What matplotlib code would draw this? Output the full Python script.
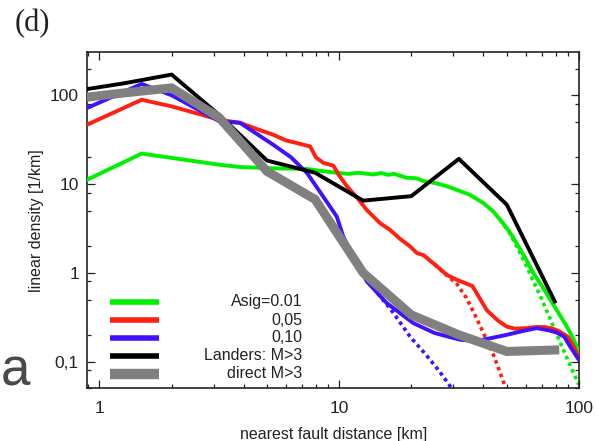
import matplotlib
matplotlib.use('Agg')
import matplotlib.pyplot as plt
from matplotlib.ticker import LogLocator, FixedLocator, FixedFormatter, NullFormatter

plt.rcParams['font.family'] = ['Liberation Sans', 'DejaVu Sans']

# ---------------- data ----------------
green_x = [0.89, 1.5, 2.0, 3.16, 3.9, 4.5, 5.5, 7.3, 8.5, 10, 11, 12, 13.9, 15, 16, 17, 19, 21,
           22.5, 25, 28, 31, 35, 40, 44, 47, 51, 55, 60, 64.7, 70, 76, 82, 89, 95, 100]
green_y = [11.2, 22, 19.7, 16.5, 15.5, 15.3, 15.0, 14.8, 14.0, 13.3, 13.0, 13.4, 12.8, 13.3, 12.7, 13.0,
           11.8, 11.6, 10.8, 10.3, 9.5, 8.6, 7.6, 6.1, 4.9, 3.96, 3.0, 2.16, 1.45, 0.99, 0.72, 0.5,
           0.36, 0.25, 0.18, 0.13]
green_th_x = [47, 51, 55, 60, 64, 69, 75, 81, 88, 95, 100]
green_th_y = [3.96, 2.9, 2.0, 1.25, 0.85, 0.55, 0.33, 0.2, 0.12, 0.075, 0.055]

red_x = [0.89, 1.5, 2.0, 3.16, 3.86, 4.5, 5.3, 6.0, 6.65, 7.57, 8.0, 8.6, 9.47, 10.0, 10.8, 12,
         13.05, 14.8, 16.3, 18, 19.8, 21.1, 22.5, 25, 28.1, 31, 36, 41.3, 46, 50, 54, 60.7, 66,
         72, 78, 84, 90, 95, 100]
red_y = [46.7, 89, 75, 53, 48.9, 42, 36, 31, 29, 26.5, 20, 17.3, 16.1, 12.5, 9.4, 6.8,
         5.1, 3.64, 3.05, 2.4, 1.98, 1.67, 1.58, 1.25, 0.95, 0.835, 0.71, 0.38, 0.29, 0.248,
         0.235, 0.238, 0.245, 0.245, 0.235, 0.215, 0.19, 0.15, 0.11]
red_th_x = [25, 28, 31, 34, 37, 40, 44, 47, 49.5]
red_th_y = [1.25, 0.95, 0.75, 0.52, 0.33, 0.21, 0.12, 0.075, 0.05]

blue_x = [0.89, 1.5, 2.0, 3.16, 3.86, 5.3, 6.3, 7.35, 8.5, 9.78, 10.4, 11.5, 13.05, 15.8, 18,
          20.4, 25, 32, 37, 42.7, 50, 58, 66.8, 75, 81, 87, 92, 100]
blue_y = [72, 134, 100, 51, 48.9, 27.8, 20, 13.3, 7.5, 4.3, 2.57, 1.5, 0.8, 0.456, 0.35,
          0.271, 0.21, 0.176, 0.17, 0.183, 0.2, 0.22, 0.238, 0.225, 0.212, 0.19, 0.148, 0.105]
blue_th_x = [11.5, 13, 15, 16.3, 19.8, 23, 26, 29.5]
blue_th_y = [1.5, 0.85, 0.52, 0.4, 0.19, 0.12, 0.08, 0.05]

landers_x = [0.794, 1.26, 2.0, 3.16, 5.0, 7.94, 12.6, 20.0, 31.6, 50.1, 79.4]
landers_y = [112, 136, 171, 60, 18.4, 13.4, 6.5, 7.3, 19.2, 5.85, 0.475]

direct_x = [0.794, 1.26, 2.0, 3.16, 5.0, 7.94, 12.6, 20.0, 31.6, 50.1, 79.4]
direct_y = [92, 106, 121, 56, 13.9, 6.7, 1.0, 0.336, 0.2, 0.13, 0.135]

legend_labels = ['Asig=0.01', '0,05', '0,10', 'Landers: M>3', 'direct M>3']
y_major = [0.1, 1, 10, 100]
y_major_labels = ['0,1', '1', '10', '100']
x_major = [1, 10, 100]
x_major_labels = ['1', '10', '100']

GREEN = '#00f000'
RED = '#ff2010'
BLUE = '#4010ff'
BLACK = '#000000'
GRAY = '#808080'

fig = plt.figure(figsize=(5.98, 4.41), dpi=100)
ax = fig.add_axes([0.146, 0.1195, 0.8227, 0.762])
ax.set_xscale('log')
ax.set_yscale('log')

dot = dict(linestyle=(0, (1, 1)), lw=2.6, dash_capstyle='butt')
ax.plot(green_th_x, green_th_y, color=GREEN, **dot, zorder=2)
ax.plot(red_th_x, red_th_y, color=RED, **dot, zorder=2)
ax.plot(blue_th_x, blue_th_y, color=BLUE, **dot, zorder=2)
ax.plot(green_x, green_y, color=GREEN, lw=2.8, zorder=3)
ax.plot(red_x, red_y, color=RED, lw=2.8, zorder=3)
ax.plot(blue_x, blue_y, color=BLUE, lw=2.8, zorder=3)
ax.plot(landers_x, landers_y, color=BLACK, lw=2.8, zorder=4)
ax.plot(direct_x, direct_y, color=GRAY, lw=6.5, zorder=5, solid_joinstyle='miter')

ax.set_xlim(0.89, 100.5)
ax.set_ylim(0.05, 305)

ax.yaxis.set_major_locator(FixedLocator(y_major))
ax.yaxis.set_major_formatter(FixedFormatter(y_major_labels))
ax.yaxis.set_minor_locator(LogLocator(base=10, subs=(2, 5, 8)))
ax.yaxis.set_minor_formatter(NullFormatter())
ax.xaxis.set_major_locator(FixedLocator(x_major))
ax.xaxis.set_major_formatter(FixedFormatter(x_major_labels))
ax.xaxis.set_minor_locator(LogLocator(base=10, subs=(2, 3, 4, 5, 6, 7, 8, 9)))
ax.xaxis.set_minor_formatter(NullFormatter())

ax.tick_params(which='both', direction='in', top=True, right=True, width=0.9, colors='#222222',
               labelcolor='#222222', labelsize=12.5)
ax.tick_params(which='major', length=5.5)
ax.tick_params(which='minor', length=3)
ax.tick_params(axis='x', pad=9)
ax.tick_params(axis='y', pad=6)
for s in ax.spines.values():
    s.set_linewidth(1.2)
    s.set_color('#222222')

ax.set_xlabel('nearest fault distance [km]', fontsize=11.5, color='#222222', labelpad=8)
ax.set_ylabel('linear density [1/km]', fontsize=11.5, color='#222222', labelpad=4)

# legend (gnuplot style, right-aligned labels)
colors = [GREEN, RED, BLUE, BLACK, GRAY]
widths = [4, 4, 4, 4, 7.5]
rows = [0.257, 0.203, 0.150, 0.097, 0.043]
for lab, c, w, yy in zip(legend_labels, colors, widths, rows):
    ax.plot([0.046, 0.146], [yy, yy], transform=ax.transAxes, color=c, lw=w,
            solid_capstyle='butt', zorder=6)
    ax.text(0.437, yy, lab, transform=ax.transAxes, ha='right', va='center',
            fontsize=11.5, color='#222222', zorder=6)

fig.text(15 / 598, 1 - 24 / 441, '(d)', family=['Liberation Serif', 'DejaVu Serif'],
         fontsize=22, va='center', ha='left', color='#222222')
fig.text(0.5 / 598, 1 - 371 / 441, 'a', fontsize=38, va='center', ha='left', color='#4a4a4a')

fig.savefig('out.png', dpi=100)
